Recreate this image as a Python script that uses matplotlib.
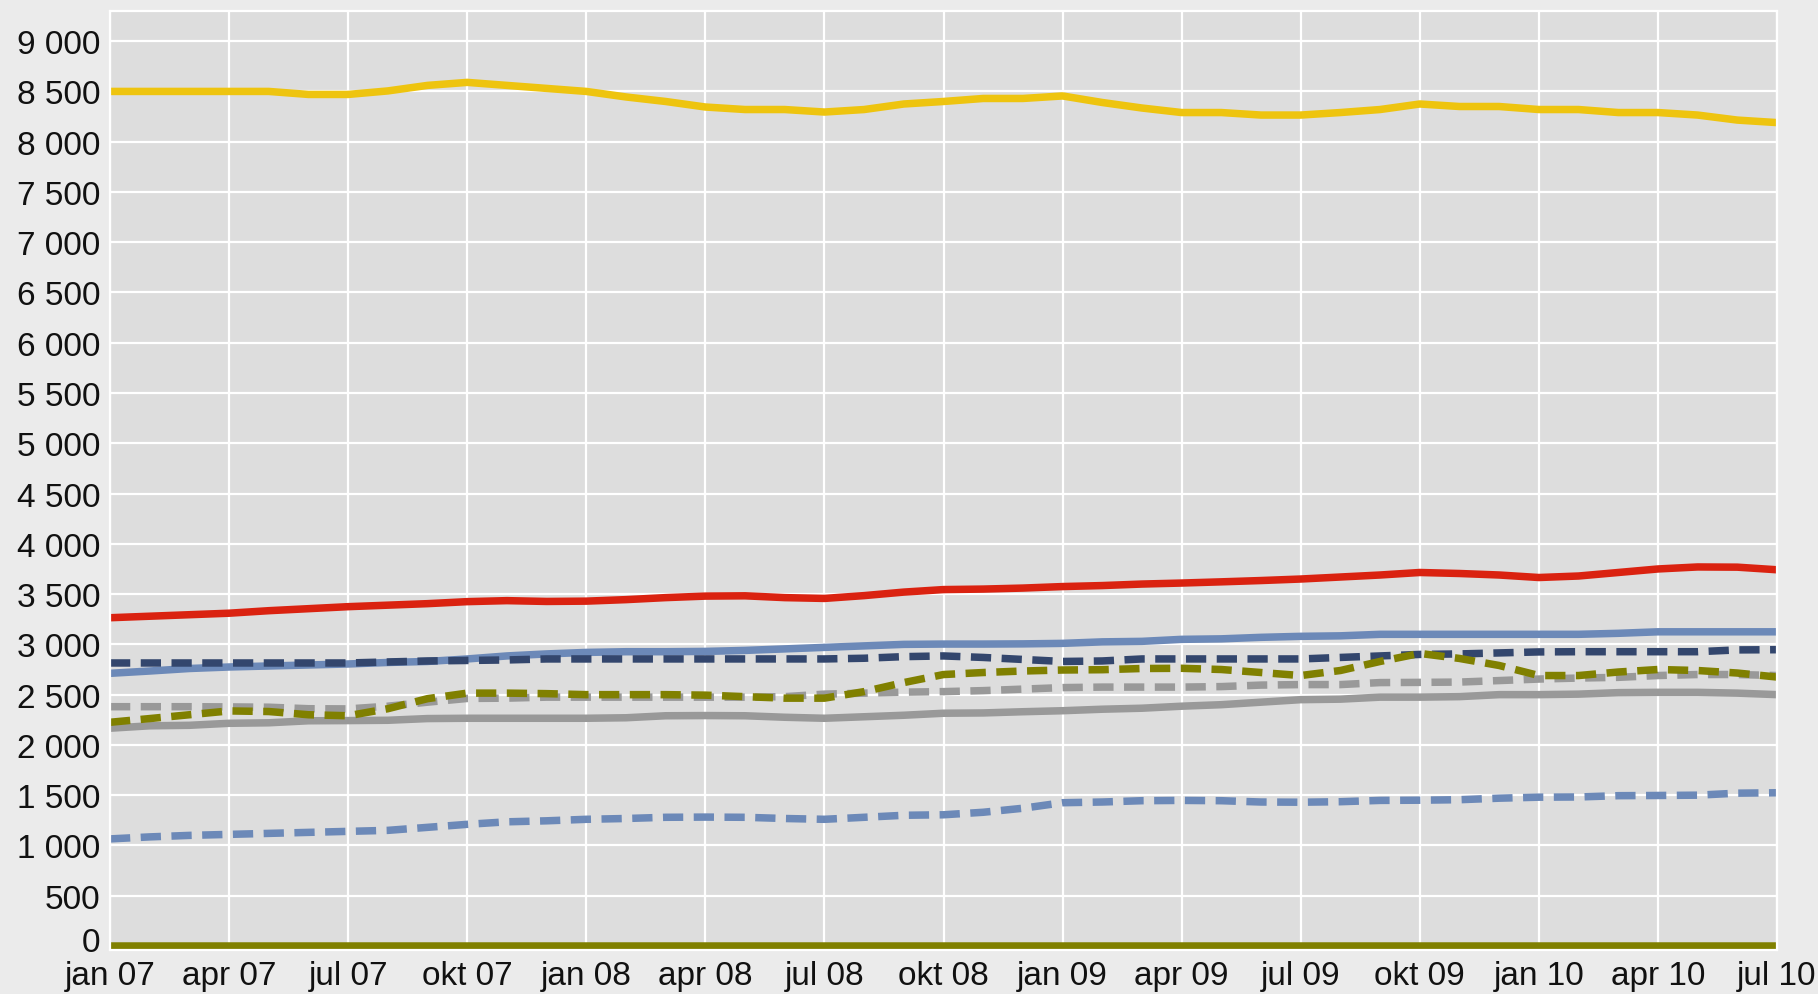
import numpy as np
import matplotlib
matplotlib.use('Agg')
import matplotlib.pyplot as plt
from matplotlib.ticker import FuncFormatter
from matplotlib.transforms import ScaledTranslation

# Monthly values, jan 07 .. jul 10 (43 months)
months = np.arange(43)
tick_labels = ['jan 07', 'apr 07', 'jul 07', 'okt 07',
               'jan 08', 'apr 08', 'jul 08', 'okt 08',
               'jan 09', 'apr 09', 'jul 09', 'okt 09',
               'jan 10', 'apr 10', 'jul 10']

yellow = [8500, 8500, 8500, 8500, 8500, 8470, 8470, 8505, 8560, 8590, 8560,
          8530, 8500, 8445, 8400, 8345, 8320, 8320, 8295, 8320, 8375,
          8400, 8430, 8430, 8455, 8390, 8335, 8290, 8290, 8265, 8265,
          8290, 8320, 8375, 8350, 8350, 8320, 8320, 8290, 8290, 8265, 8215, 8190]
red = [3265, 3280, 3295, 3310, 3335, 3355, 3375, 3390, 3405, 3425, 3435,
       3427, 3430, 3445, 3465, 3480, 3483, 3465, 3457, 3485, 3520,
       3545, 3550, 3560, 3575, 3585, 3600, 3610, 3622, 3635, 3650,
       3670, 3690, 3715, 3705, 3690, 3665, 3680, 3715, 3750, 3770, 3768, 3742]
blue = [2712, 2735, 2760, 2775, 2785, 2795, 2805, 2820, 2830, 2855, 2885,
        2905, 2920, 2927, 2927, 2930, 2940, 2955, 2970, 2985, 3000,
        3003, 3003, 3005, 3010, 3025, 3030, 3050, 3055, 3070, 3080,
        3085, 3100, 3100, 3100, 3100, 3100, 3100, 3110, 3125, 3125, 3125, 3125]
navy_dash = [2815, 2815, 2815, 2815, 2815, 2815, 2815, 2825, 2835, 2840, 2845,
             2855, 2855, 2855, 2855, 2855, 2855, 2855, 2855, 2862, 2878,
             2885, 2870, 2850, 2830, 2835, 2855, 2855, 2855, 2855, 2855,
             2870, 2885, 2900, 2905, 2915, 2925, 2927, 2927, 2927, 2927, 2945, 2947]
olive_dash = [2225, 2262, 2300, 2338, 2332, 2300, 2290, 2360, 2460, 2515, 2515,
              2510, 2500, 2500, 2500, 2495, 2480, 2465, 2465, 2530, 2620,
              2700, 2720, 2735, 2745, 2748, 2760, 2762, 2750, 2720, 2690,
              2740, 2830, 2910, 2860, 2790, 2690, 2690, 2725, 2750, 2740, 2715, 2675]
gray_dash = [2380, 2380, 2380, 2378, 2375, 2360, 2358, 2385, 2425, 2462, 2465,
             2475, 2475, 2475, 2475, 2475, 2475, 2480, 2505, 2515, 2525,
             2530, 2540, 2555, 2570, 2575, 2575, 2575, 2580, 2595, 2600,
             2600, 2620, 2622, 2625, 2640, 2655, 2665, 2672, 2690, 2700, 2700, 2690]
gray = [2166, 2190, 2195, 2215, 2220, 2240, 2242, 2245, 2262, 2265, 2265,
        2265, 2265, 2270, 2290, 2292, 2290, 2275, 2265, 2280, 2295,
        2315, 2318, 2330, 2340, 2355, 2365, 2385, 2400, 2425, 2450,
        2455, 2475, 2475, 2480, 2500, 2500, 2505, 2520, 2523, 2523, 2515, 2500]
light_dash = [1065, 1085, 1100, 1110, 1120, 1130, 1140, 1150, 1180, 1210, 1235,
              1245, 1260, 1268, 1280, 1282, 1280, 1268, 1260, 1280, 1300,
              1305, 1330, 1370, 1425, 1432, 1445, 1448, 1445, 1432, 1430,
              1435, 1448, 1450, 1455, 1470, 1480, 1482, 1495, 1497, 1500, 1520, 1524]
zero = [0] * 43

plt.rcParams['font.family'] = ['Liberation Sans', 'DejaVu Sans']

fig = plt.figure(figsize=(18.18, 9.95), dpi=100, facecolor='#ebebeb')
ax = fig.add_axes([110 / 1818, 44 / 995, 1667 / 1818, 939 / 995])
ax.set_facecolor('#dddddd')

lw = 5.4
dash = (2.7, 1.4)

ax.plot(months, gray, color='#999999', lw=lw, solid_capstyle='butt')
ax.plot(months, gray_dash, color='#999999', lw=lw, dashes=dash)
ax.plot(months, blue, color='#6c89b8', lw=lw, solid_capstyle='butt')
ax.plot(months, navy_dash, color='#33466d', lw=lw, dashes=dash)
ax.plot(months, olive_dash, color='#808000', lw=lw, dashes=dash)
ax.plot(months, light_dash, color='#6c89b8', lw=lw, dashes=dash)
ax.plot(months, red, color='#da2210', lw=lw, solid_capstyle='butt')
ax.plot(months, yellow, color='#eec40f', lw=lw, solid_capstyle='butt')
ax.plot(months, zero, color='#808000', lw=lw, solid_capstyle='butt')

ax.set_xlim(0, 42)
ax.set_ylim(-40, 9300)
ax.set_xticks(np.arange(0, 43, 3))
ax.set_xticklabels(tick_labels)
ax.set_yticks(np.arange(0, 9001, 500))
ax.yaxis.set_major_formatter(FuncFormatter(lambda v, p: f'{int(v):,}'.replace(',', ' ')))

ax.grid(True, color='white', lw=1.6)
ax.set_axisbelow(True)
for s in ax.spines.values():
    s.set_color('white')
    s.set_linewidth(1.6)

ax.tick_params(axis='both', length=0, labelsize=24, labelcolor='#111111')
ax.tick_params(axis='y', pad=7)
ax.tick_params(axis='x', pad=7)

# nudge the "0" label up a little so it clears "jan 07"
zero_label = ax.get_yticklabels()[0]
zero_label.set_transform(zero_label.get_transform() + ScaledTranslation(0, 5 / 72, fig.dpi_scale_trans))

fig.savefig('out.png', dpi=100, facecolor=fig.get_facecolor())
